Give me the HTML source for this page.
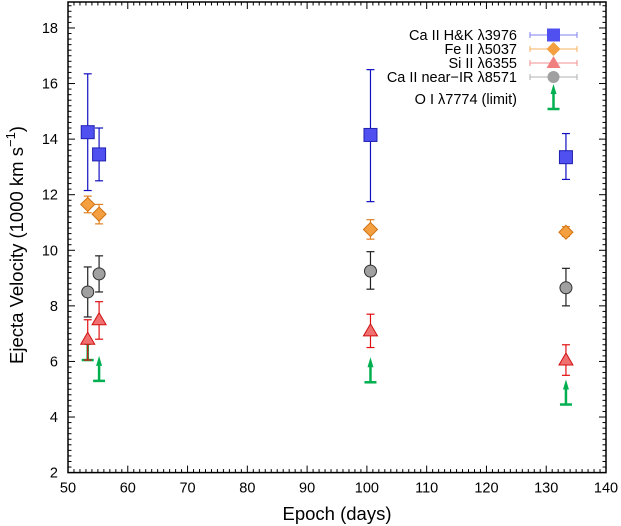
<!DOCTYPE html>
<html><head><meta charset="utf-8"><style>
html,body{margin:0;padding:0;background:#fff}
svg{display:block;font-family:"Liberation Sans",sans-serif}
</style></head><body>
<svg id="c" width="621" height="526" xmlns="http://www.w3.org/2000/svg"></svg>
<script>
const epochs=[53.3,55.2,100.6,133.3];
const caHK=[14.25,13.45,14.15,13.35];
const caHKlo=[12.15,12.5,11.75,12.55];
const caHKhi=[16.35,14.4,16.5,14.2];
const feII=[11.65,11.3,10.75,10.65];
const feIIlo=[11.35,10.95,10.4,10.5];
const feIIhi=[11.95,11.65,11.1,10.85];
const caIR=[8.5,9.15,9.25,8.65];
const caIRlo=[7.6,8.5,8.6,8.0];
const caIRhi=[9.4,9.8,9.95,9.35];
const siII=[6.8,7.5,7.1,6.05];
const siIIlo=[6.05,6.8,6.5,5.5];
const siIIhi=[7.5,8.15,7.7,6.6];
const oLimit=[6.05,5.3,5.25,4.45];
const xTicks=[50,60,70,80,90,100,110,120,130,140];
const yTicks=[2,4,6,8,10,12,14,16,18];
const NS="http://www.w3.org/2000/svg";
const svg=document.getElementById('c');
const L=68,R=606,B=472.6,T=2;
const X=v=>L+(v-50)*(R-L)/90;
const Y=v=>B-(v-2)*27.79;
function el(t,a,p){const e=document.createElementNS(NS,t);for(const k in a)e.setAttribute(k,a[k]);(p||svg).appendChild(e);return e;}
const fr=el('rect',{x:L,y:T,width:R-L,height:B-T,fill:'none',stroke:'#000','stroke-width':1.5});


for(let d=50;d<=140;d++){const x=X(d);const len=(d%10==0)?7:3.5;
el('line',{x1:x,y1:B,x2:x,y2:B-len,stroke:'#000','stroke-width':1});
el('line',{x1:x,y1:T,x2:x,y2:T+len,stroke:'#000','stroke-width':1});}
for(let i=0;i<=85;i++){const v=2+i*0.2;const y=Y(v);if(y<T)break;const maj=(i%10==0);const len=maj?7:3.5;
el('line',{x1:L,y1:y,x2:L+len,y2:y,stroke:'#000','stroke-width':1});
el('line',{x1:R,y1:y,x2:R-len,y2:y,stroke:'#000','stroke-width':1});}
xTicks.forEach(v=>{const t=el('text',{x:X(v),y:B+20,'text-anchor':'middle','font-size':14.5});t.textContent=v;

});
yTicks.forEach(v=>{const t=el('text',{x:L-10,y:Y(v)+5,'text-anchor':'end','font-size':14.5});t.textContent=v;

});
const xt=el('text',{x:337,y:520,'text-anchor':'middle','font-size':18.5});xt.textContent='Epoch (days)';


const yt=el('text',{x:0,y:0,'text-anchor':'middle','font-size':18.5,transform:'translate(23,245) rotate(-90)'});
yt.innerHTML='Ejecta Velocity (1000 km s<tspan dy="-8" font-size="13">−1</tspan><tspan dy="8">)</tspan>';


function marker(type,x,y,fill,stroke,g){
 if(type=='sq') el('rect',{x:x-6.5,y:y-6.5,width:13,height:13,fill,stroke,'stroke-width':1},g);
 else if(type=='di') el('polygon',{points:`${x},${y-7} ${x+7},${y} ${x},${y+7} ${x-7},${y}`,fill,stroke,'stroke-width':1},g);
 else if(type=='tr') el('polygon',{points:`${x},${y-7} ${x+7},${y+5} ${x-7},${y+5}`,fill,stroke,'stroke-width':1},g);
 else el('circle',{cx:x,cy:y,r:6,fill,stroke,'stroke-width':1},g);}
function series(name,vals,lo,hi,type,fill,stroke,ec){
 const g=el('g',{});
 vals.forEach((v,i)=>{const x=X(epochs[i]);
  el('line',{x1:x,y1:Y(lo[i]),x2:x,y2:Y(hi[i]),stroke:ec,'stroke-width':1.2},g);
  el('line',{x1:x-4,y1:Y(lo[i]),x2:x+4,y2:Y(lo[i]),stroke:ec,'stroke-width':1.2},g);
  el('line',{x1:x-4,y1:Y(hi[i]),x2:x+4,y2:Y(hi[i]),stroke:ec,'stroke-width':1.2},g);
  marker(type,x,Y(v),fill,stroke,g);});}
function arrow(x,yb,g){
 el('line',{x1:x-6,y1:yb,x2:x+6,y2:yb,stroke:'#00b050','stroke-width':2.5},g);
 el('line',{x1:x,y1:yb,x2:x,y2:yb-18,stroke:'#00b050','stroke-width':2.5},g);
 el('polygon',{points:`${x},${yb-25} ${x+3},${yb-15} ${x-3},${yb-15}`,fill:'#00b050'},g);}
series('ca-hk-series',caHK,caHKlo,caHKhi,'sq','#5050f0','#2020b0','#1010c0');
series('fe-ii-series',feII,feIIlo,feIIhi,'di','#f4a040','#d07010','#e08020');
series('ca-ir-series',caIR,caIRlo,caIRhi,'ci','#a0a0a0','#303030','#202020');
const og=el('g',{});
oLimit.forEach((v,i)=>arrow(X(epochs[i]),Y(v),og));
series('si-ii-series',siII,siIIlo,siIIhi,'tr','#f07070','#d01010','#e01010');
const lg=el('g',{});
const items=[['Ca II H&K λ3976','sq','#5050f0','#8080f0',35],['Fe II λ5037','di','#f4a040','#f4b060',49],['Si II λ6355','tr','#f08080','#f09090',63],['Ca II near−IR λ8571','ci','#a0a0a0','#b0b0b0',77]];
items.forEach(it=>{const y=it[4];
 const t=el('text',{x:517,y:y+5,'text-anchor':'end','font-size':14.5},lg);t.textContent=it[0];
 el('line',{x1:530,y1:y,x2:577,y2:y,stroke:it[3],'stroke-width':1},lg);
 el('line',{x1:530,y1:y-3,x2:530,y2:y+3,stroke:it[3]},lg);
 el('line',{x1:577,y1:y-3,x2:577,y2:y+3,stroke:it[3]},lg);
 marker(it[1],553.5,y,it[2],'none',lg);});
const ot=el('text',{x:517,y:104,'text-anchor':'end','font-size':14.5},lg);ot.textContent='O I λ7774 (limit)';
arrow(553.5,109,lg);
</script>
</body></html>
